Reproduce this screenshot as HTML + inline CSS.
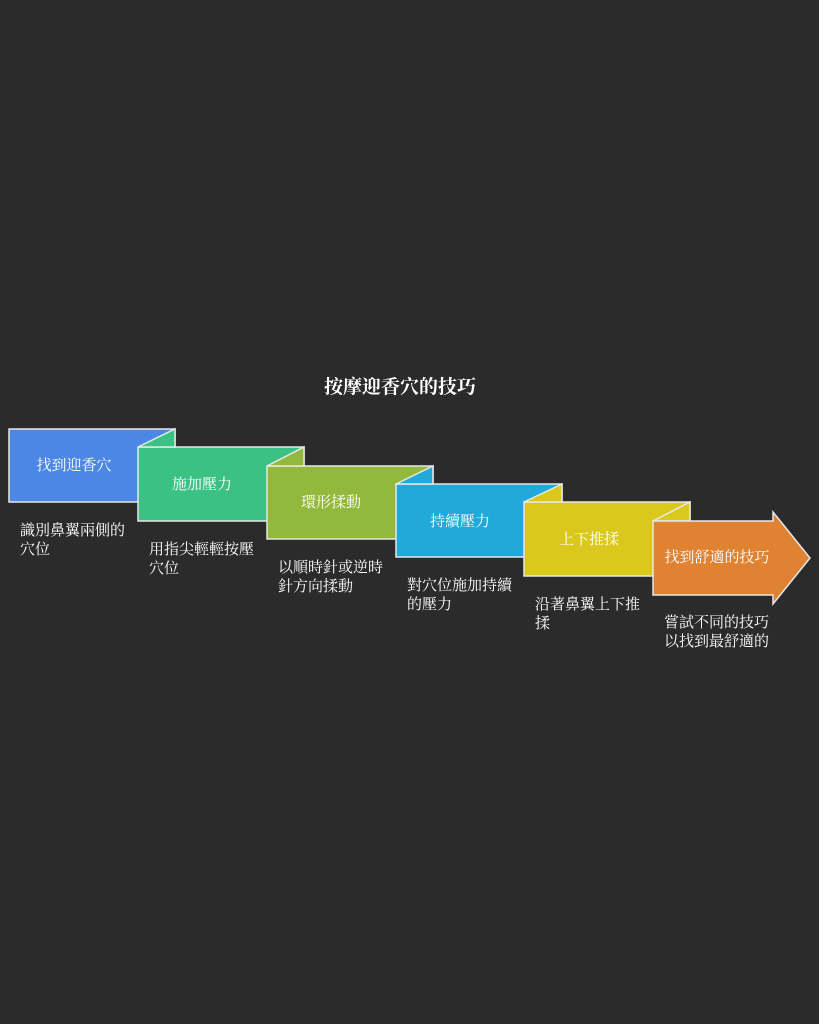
<!DOCTYPE html>
<html><head><meta charset="utf-8"><style>
html,body{margin:0;padding:0;background:#2b2b2b;}
svg{display:block}
text{font-family:"Liberation Serif","Noto Serif CJK SC",serif;}
</style></head><body>
<svg width="819" height="1024" viewBox="0 0 819 1024" xmlns="http://www.w3.org/2000/svg">
<rect width="819" height="1024" fill="#2b2b2b"/>
<text x="400" y="393" text-anchor="middle" font-size="19" font-weight="bold" fill="#ffffff">按摩迎香穴的技巧</text>
<g stroke="#e8e8e8" stroke-width="1.5">
<rect x="9" y="429" width="166" height="73" fill="#4d87e6"/>
<rect x="138" y="447" width="166" height="74" fill="#3cc184"/>
<polygon points="138,447 175,429 175,447" fill="#3cc184"/>
<rect x="267" y="466" width="166" height="73" fill="#93b93c"/>
<polygon points="267,466 304,447 304,466" fill="#93b93c"/>
<rect x="396" y="484" width="166" height="73" fill="#20a9d9"/>
<polygon points="396,484 433,466 433,484" fill="#20a9d9"/>
<rect x="524" y="502" width="166" height="74" fill="#dbc81c"/>
<polygon points="524,502 562,484 562,502" fill="#dbc81c"/>
<polygon points="653,521 690,502 690,521" fill="#dbc81c"/>
<polygon points="653,521 773,521 773,512 810,558 773,604 773,595 653,595" fill="#df8231"/>
</g>
<g fill="#ffffff" font-size="15" text-anchor="middle">
<text x="74" y="470">找到迎香穴</text>
<text x="202" y="489">施加壓力</text>
<text x="331" y="507">環形揉動</text>
<text x="460" y="526">持續壓力</text>
<text x="589" y="544">上下推揉</text>
<text x="717" y="562">找到舒適的技巧</text>
</g>
<g fill="#ffffff" font-size="15">
<text x="20" y="535">識別鼻翼兩側的</text><text x="20" y="554">穴位</text>
<text x="149" y="554">用指尖輕輕按壓</text><text x="149" y="573">穴位</text>
<text x="278" y="572">以順時針或逆時</text><text x="278" y="591">針方向揉動</text>
<text x="407" y="590">對穴位施加持續</text><text x="407" y="609">的壓力</text>
<text x="535" y="609">沿著鼻翼上下推</text><text x="535" y="628">揉</text>
<text x="664" y="627">嘗試不同的技巧</text><text x="664" y="646">以找到最舒適的</text>
</g>
</svg>
</body></html>
